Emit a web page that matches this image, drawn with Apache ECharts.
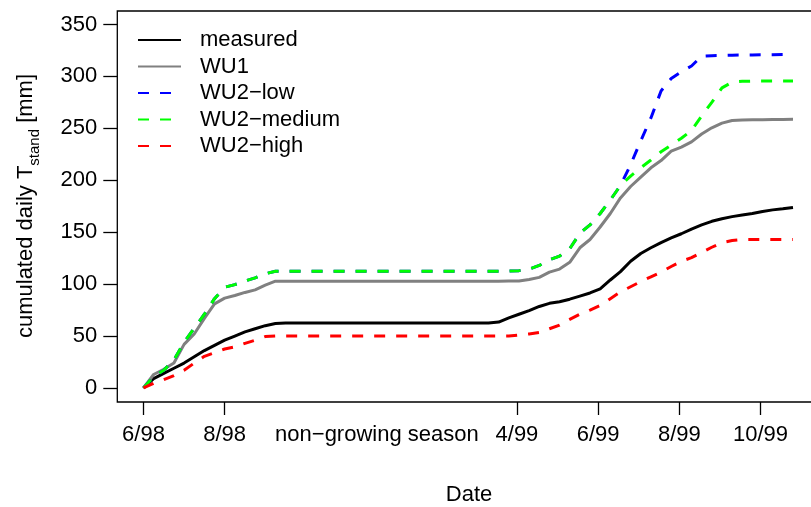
<!DOCTYPE html>
<html>
<head>
<meta charset="utf-8">
<script src="https://cdn.jsdelivr.net/npm/echarts@6/dist/echarts.min.js"></script>
<style>
html, body { margin: 0; padding: 0; background: #fff; }
#chart { width: 811px; height: 507px; }
</style>
</head>
<body>
<div id="chart"></div>
<script>
// x position in months after 6/98, with the non-growing season squeezed
var months = [0, 0.25, 0.5, 0.75, 1, 1.25, 1.5, 1.75, 2, 2.25, 2.5, 2.75, 3, 3.25, 3.5, 3.75, 4,
    8.5, 8.75, 9, 9.25, 9.5, 9.75, 10, 10.25, 10.5, 10.75, 11, 11.25, 11.5, 11.75, 12, 12.25,
    12.5, 12.75, 13, 13.25, 13.5, 13.75, 14, 14.25, 14.5, 14.75, 15, 15.25, 15.5, 15.75, 16];

var measured = [0, 9, 14, 19, 24, 30, 36, 41, 46, 50, 54, 57, 60, 62, 62.6, 62.6, 62.6,
    62.6, 63.5, 67.5, 71, 74.5, 78.5, 81.5, 83, 85.5, 88.5, 91.5, 95.5, 104, 112, 122, 129.5,
    135, 140, 144.5, 148.5, 153, 157, 160.5, 163, 165, 166.5, 168, 170, 171.5, 172.5, 173.8];

var wu1 = [0, 13, 18, 24, 42, 52, 67, 81, 86.5, 89, 92, 94.5, 99, 102.8, 102.8, 102.8, 102.8,
    102.8, 102.8, 103, 103, 104.4, 106.5, 111.5, 114.5, 121, 135, 143, 155, 168, 183, 194, 203,
    212, 219, 228, 232, 237, 244.5, 250.5, 255, 257.5, 258, 258.2, 258.4, 258.5, 258.6, 258.7];

var wu2Low = [0, 11, 17, 27, 44, 57.5, 71, 86, 97, 99.5, 103, 106, 110, 112.4, 112.4, 112.4, 112.4,
    112.4, 112.4, 112.5, 113, 114.5, 118, 123.5, 127, 134, 149, 157, 168, 181, 195, 215, 238,
    260, 286, 298, 304.5, 310, 319.5, 320, 320.3, 320.5, 320.6, 320.7, 320.8, 320.9, 321, 321];

var wu2Medium = [0, 11, 17, 27, 44, 57.5, 71, 86, 97, 99.5, 103, 106, 110, 112.4, 112.4, 112.4, 112.4,
    112.4, 112.4, 112.5, 113, 114.5, 118, 123.5, 127, 134, 149, 157, 168, 181, 195, 204, 212,
    219.5, 227.5, 234, 240.5, 248, 262, 275, 289, 294.5, 295.3, 295.5, 295.5, 295.5, 295.5, 295.5];

var wu2High = [0, 4.5, 8, 12, 17, 24, 30.5, 34, 37.5, 39.5, 43, 46, 49.5, 50, 50, 50, 50,
    50, 50, 50, 51, 52, 53.5, 57, 60.5, 66, 71, 75, 79.5, 86, 92.5, 97.5, 102.5,
    107, 111.5, 117, 122, 125.5, 130.5, 135.5, 140, 142, 143, 143, 143, 143, 143, 143];

var tickPos = [0, 2, 9.2, 11.2, 13.2, 15.2];
var labelPos = [0, 2, 5.75, 9.2, 11.2, 13.2, 15.2];
var labelText = ["6/98", "8/98", "non\u2212growing season", "4/99", "6/99", "8/99", "10/99"];
var yTicks = [0, 50, 100, 150, 200, 250, 300, 350];

var names = ["measured", "WU1", "WU2\u2212low", "WU2\u2212medium", "WU2\u2212high"];
var colors = ["#000000", "#808080", "#0000ff", "#00ff00", "#ff0000"];
var dashed = [false, false, true, true, true];
var values = [measured, wu1, wu2Low, wu2Medium, wu2High];

var font = "'Liberation Sans', Arial, Helvetica, sans-serif";

function pairs(ys) {
    return months.map(function(m, i) { return [m, ys[i]]; });
}

var series = names.map(function(name, i) {
    return {
        name: name,
        type: 'line',
        data: pairs(values[i]),
        symbol: 'none',
        showSymbol: false,
        clip: true,
        lineStyle: {
            color: colors[i],
            width: 3,
            type: dashed[i] ? [11, 11] : 'solid',
            cap: 'butt'
        },
        itemStyle: { color: colors[i] }
    };
});

var myChart = echarts.init(document.getElementById('chart'), null, { renderer: 'canvas' });

var option = {
    animation: false,
    backgroundColor: '#fff',
    textStyle: { fontFamily: font },
    grid: {
        left: 117.3,
        right: -10,
        top: 11,
        bottom: 105,
        show: true,
        borderColor: '#000',
        borderWidth: 1.3,
        containLabel: false,
        outerBoundsMode: 'none'
    },
    legend: {
        orient: 'vertical',
        left: 137,
        top: 29,
        padding: 0,
        itemWidth: 43,
        itemHeight: 22,
        itemGap: 4.5,
        selectedMode: false,
        data: names,
        // hide the circle that line series put in their legend icon
        itemStyle: { color: 'rgba(0,0,0,0)', borderWidth: 0, opacity: 0 },
        textStyle: {
            fontFamily: font,
            fontSize: 22,
            lineHeight: 22,
            color: '#000',
            padding: [0, 0, 0, 14]
        }
    },
    xAxis: {
        type: 'value',
        min: -0.645,
        max: 16.69,
        axisLine: { show: false, onZero: false },
        splitLine: { show: false },
        axisTick: {
            show: true,
            inside: false,
            length: 13,
            customValues: tickPos,
            lineStyle: { color: '#000', width: 1.3 }
        },
        axisLabel: {
            show: true,
            margin: 22,
            customValues: labelPos,
            fontFamily: font,
            fontSize: 22,
            color: '#000',
            formatter: function(v) {
                var i = labelPos.indexOf(v);
                return i >= 0 ? labelText[i] : '';
            }
        }
    },
    yAxis: {
        type: 'value',
        min: -13.5,
        max: 363,
        axisLine: { show: false, onZero: false },
        splitLine: { show: false },
        axisTick: {
            show: true,
            inside: false,
            length: 14,
            customValues: yTicks,
            lineStyle: { color: '#000', width: 1.3 }
        },
        axisLabel: {
            show: true,
            margin: 20,
            customValues: yTicks,
            fontFamily: font,
            fontSize: 22,
            color: '#000'
        }
    },
    graphic: [
        {
            type: 'text',
            x: 24,
            y: 206,
            rotation: Math.PI / 2,
            style: {
                text: '{n|cumulated daily T}{s|stand}{n| [mm]}',
                align: 'center',
                verticalAlign: 'middle',
                fill: '#000',
                rich: {
                    n: { fontFamily: font, fontSize: 22, lineHeight: 26, verticalAlign: 'bottom' },
                    s: { fontFamily: font, fontSize: 15, lineHeight: 26, verticalAlign: 'bottom', padding: [0, 0, -5, 0] }
                }
            }
        },
        {
            type: 'text',
            x: 469,
            y: 495,
            style: {
                text: 'Date',
                font: '22px ' + font,
                fill: '#000',
                align: 'center',
                verticalAlign: 'middle'
            }
        }
    ],
    series: series
};

myChart.setOption(option);
</script>
</body>
</html>
